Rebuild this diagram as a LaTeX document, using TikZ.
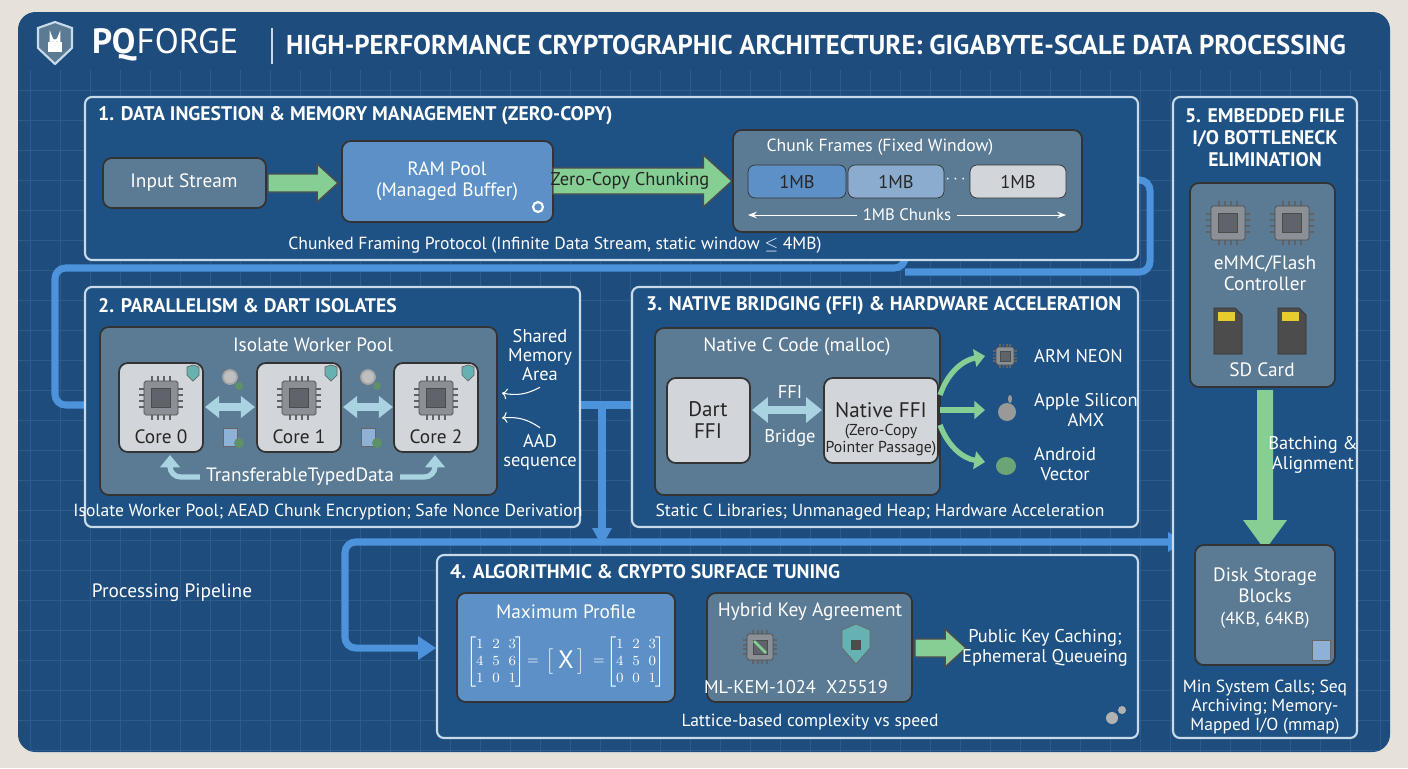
\documentclass[tikz,border=0pt]{standalone}
\usepackage{amsmath}
\usepackage{fontspec}
\setmainfont{PT Sans}
\usetikzlibrary{arrows.meta}
\definecolor{paper}{HTML}{E6E2DA}
\definecolor{bgblue}{HTML}{1E4C7C}
\definecolor{gridblue}{HTML}{2D5C8C}
\definecolor{panelblue}{HTML}{1F5284}
\definecolor{edgeblue}{HTML}{C9DBEA}
\definecolor{slatebox}{HTML}{5B7A93}
\definecolor{lightbox}{HTML}{5C90C6}
\definecolor{greybox}{HTML}{D2D6DA}
\definecolor{greenarr}{HTML}{86CF94}
\definecolor{flowblue}{HTML}{4C93DC}
\definecolor{paleblue}{HTML}{A9D3E0}
\definecolor{chipgray}{HTML}{8A9096}
\definecolor{chipdark}{HTML}{5E646A}
\tikzstyle{panel}=[draw=edgeblue, line width=1.2pt, fill=panelblue, rounded corners=4pt]
\tikzstyle{slate}=[draw=black!80, line width=1pt, fill=slatebox, rounded corners=5pt]
\tikzstyle{light}=[draw=black!80, line width=1pt, fill=lightbox, rounded corners=5pt]
\tikzstyle{grey}=[draw=black!80, line width=1pt, fill=greybox, rounded corners=5pt]
\tikzstyle{ptitle}=[anchor=west, text=white, font=\fontsize{11.2}{12.5}\selectfont\bfseries]
\tikzstyle{txt}=[text=white, align=center, font=\fontsize{10}{11}\selectfont]
\tikzstyle{dtxt}=[text=black!85, align=center, font=\fontsize{10.5}{11}\selectfont]
\tikzstyle{flow}=[draw=flowblue, line width=4pt, rounded corners=6pt]
\tikzstyle{garrow}=[draw=black!70, fill=greenarr, line width=0.8pt]
\tikzstyle{mtx}=[text=white, inner sep=0pt, font=\fontsize{8.5}{9.5}\selectfont]
% horizontal green block arrow: x1, x2, y, half shaft, half head
\newcommand{\garrow}[5]{%
  \draw[garrow] (#1,{#3-#4}) -- ({#2-1.1*#5},{#3-#4}) -- ({#2-1.1*#5},{#3-#5}) -- (#2,#3)
    -- ({#2-1.1*#5},{#3+#5}) -- ({#2-1.1*#5},{#3+#4}) -- (#1,{#3+#4}) -- cycle;
}
\newcommand{\chip}[3]{%
  \foreach \k in {-0.55,-0.18,0.18,0.55}{
    \draw[chipdark, line width=1pt] ({#1+\k*#3},{#2-#3}) -- ++(0,{-0.3*#3});
    \draw[chipdark, line width=1pt] ({#1+\k*#3},{#2+#3}) -- ++(0,{0.3*#3});
    \draw[chipdark, line width=1pt] ({#1-#3},{#2+\k*#3}) -- ++({-0.3*#3},0);
    \draw[chipdark, line width=1pt] ({#1+#3},{#2+\k*#3}) -- ++({0.3*#3},0);
  }
  \draw[fill=chipgray, draw=black!70, rounded corners=1pt] ({#1-#3},{#2-#3}) rectangle ({#1+#3},{#2+#3});
  \draw[fill=chipdark, draw=black!70] ({#1-0.55*#3},{#2-0.55*#3}) rectangle ({#1+0.55*#3},{#2+0.55*#3});
}
\begin{document}
\begin{tikzpicture}[x=0.02cm, y=-0.02cm]
\useasboundingbox (0,0) rectangle (1408,768);
\fill[paper] (0,0) rectangle (1408,768);
\fill[bgblue, rounded corners=10pt] (18,12) rectangle (1390,752);
\begin{scope}
\clip[rounded corners=10pt] (18,12) rectangle (1390,752);
\foreach \gx in {30,60,...,1390} \draw[gridblue, line width=0.3pt] (\gx,70) -- (\gx,752);
\foreach \gy in {90,120,...,750} \draw[gridblue, line width=0.3pt] (18,\gy) -- (1390,\gy);
\end{scope}

% header
\draw[edgeblue, fill=slatebox, line width=1.2pt] (38,28) -- (55,22) -- (72,28) -- (72,48) -- (55,64) -- (38,48) -- cycle;
\draw[white, line width=1.5pt] (51,42) -- (51,37) arc (180:0:4) -- (59,42);
\fill[white] (48,42) rectangle (62,52);
\node (logo) [anchor=west, text=white, font=\fontsize{20}{21}\selectfont] at (86,45) {\textbf{PQ}FORGE};
\draw[edgeblue, line width=1pt] (272,28) -- (272,64);
\node (title) [anchor=west, text=white, font=\fontsize{15.5}{16}\selectfont\bfseries] at (280,45)
  {\scalebox{0.98}[1]{HIGH-PERFORMANCE CRYPTOGRAPHIC ARCHITECTURE: GIGABYTE-SCALE DATA PROCESSING}};

% flow lines
\draw[flow] (1082,180) -- (1150,180) -- (1150,272) -- (905,272);
\draw[flow] (905,232) -- (905,268) -- (55,268) -- (55,405) -- (92,405);
\fill[flowblue] (88,395) -- (102,405) -- (88,415) -- cycle;
\draw[flow] (497,405) -- (636,405);
\fill[flowblue] (632,393) -- (652,405) -- (632,417) -- cycle;
\draw[flow] (602,405) -- (602,530);
\fill[flowblue] (592,528) -- (602,546) -- (612,528) -- cycle;
\draw[flow] (1172,542) -- (345,542) -- (345,648) -- (420,648);
\fill[flowblue] (1168,532) -- (1184,542) -- (1168,552) -- cycle;
\fill[flowblue] (418,636) -- (436,648) -- (418,660) -- cycle;

% panel 1
\draw[panel] (85,97) rectangle (1138,260);
\node (p1) [ptitle] at (92,116) {1. DATA INGESTION \& MEMORY MANAGEMENT (ZERO-COPY)};
\draw[slate] (103,158) rectangle (266,208);
\node (input) [txt, font=\fontsize{11}{12}\selectfont] at (184,183) {Input Stream};
\garrow{268}{338}{183}{9}{19}
\draw[light] (342,141) rectangle (553,222);
\node (ram) [txt, font=\fontsize{11}{12}\selectfont] at (447,181) {RAM Pool\\(Managed Buffer)};
\draw[white!80, line width=1.2pt] (538,207) circle (5);
\garrow{553}{732}{181}{13}{26}
\node (zc) [dtxt] at (630,181) {Zero-Copy Chunking};
\draw[slate] (733,130) rectangle (1082,232);
\node (frames) [txt] at (880,147) {Chunk Frames (Fixed Window)};
\draw[draw=black!80, fill=lightbox, rounded corners=4pt] (748,165) rectangle (846,198);
\draw[draw=black!80, fill=lightbox!60!greybox, rounded corners=4pt] (848,165) rectangle (944,198);
\draw[draw=black!80, fill=greybox, rounded corners=4pt] (970,165) rectangle (1066,198);
\node (c1) [dtxt] at (797,182) {1MB};
\node (c2) [dtxt] at (896,182) {1MB};
\node (cd) [txt] at (957,180) {$\cdots$};
\node (c3) [dtxt] at (1018,182) {1MB};
\node (mb) [txt, font=\fontsize{9.5}{10}\selectfont] at (907,215) {1MB Chunks};
\draw[white, -{Stealth[length=5pt]}] (mb.east) -- (1066,215);
\draw[white, -{Stealth[length=5pt]}] (mb.west) -- (748,215);
\node (foot1) [txt] at (555,245) {Chunked Framing Protocol (Infinite Data Stream, static window $\leq$ 4MB)};

% panel 2
\draw[panel] (85,287) rectangle (580,527);
\node (p2) [ptitle] at (92,306) {2. PARALLELISM \& DART ISOLATES};
\draw[slate] (100,327) rectangle (497,495);
\node (pool) [txt, font=\fontsize{11}{12}\selectfont] at (313,345) {Isolate Worker Pool};
\foreach \cx/\lab in {161/0,299/1,436/2}{
  \draw[grey] (\cx-42,363) rectangle (\cx+42,452);
  \chip{\cx}{398}{17}
  \node[dtxt, font=\fontsize{11}{12}\selectfont] at (\cx,437) {Core \lab};
  \draw[fill=teal!60, draw=black!60] (\cx+26,367) -- (\cx+32,365) -- (\cx+38,367) -- (\cx+38,375) -- (\cx+32,381) -- (\cx+26,375) -- cycle;
}
\foreach \ax in {230,368}{
  \draw[paleblue, line width=4pt, {Triangle[length=8pt,width=12pt]}-{Triangle[length=8pt,width=12pt]}] (\ax-25,407) -- (\ax+25,407);
  \draw[gray!70, fill=gray!50, line width=1pt] (\ax,377) circle (7);
  \fill[greenarr!70!black] (\ax+9,386) circle (4);
  \draw[fill=lightbox!70, draw=black!60] (\ax-7,428) rectangle (\ax+7,446);
  \fill[greenarr!70!black] (\ax+9,443) circle (5);
}
\node (ttd) [txt, font=\fontsize{11}{12}\selectfont] at (300,477) {TransferableTypedData};
\draw[paleblue, line width=3pt, -{Triangle[length=7pt,width=11pt]}, rounded corners=6pt] (ttd.west) -- (170,477) -- (170,455);
\draw[paleblue, line width=3pt, -{Triangle[length=7pt,width=11pt]}, rounded corners=6pt] (ttd.east) -- (435,477) -- (435,455);
\node (shared) [txt, font=\fontsize{10.5}{11}\selectfont] at (540,355) {Shared\\Memory\\Area};
\node (aad) [txt, font=\fontsize{10.5}{11}\selectfont] at (540,452) {AAD\\sequence};
\draw[white, ->, line width=0.6pt] (shared.south) to[bend left=20] (502,393);
\draw[white, ->, line width=0.6pt] (aad.north) to[bend right=20] (502,418);
\node (foot2) [txt] at (328,512) {Isolate Worker Pool; AEAD Chunk Encryption; Safe Nonce Derivation};

% panel 3
\draw[panel] (632,287) rectangle (1138,527);
\node (p3) [ptitle] at (640,306) {3. NATIVE BRIDGING (FFI) \& HARDWARE ACCELERATION};
\draw[slate] (655,328) rectangle (940,495);
\node (native) [txt, font=\fontsize{11}{12}\selectfont] at (797,347) {Native C Code (malloc)};
\draw[grey] (667,378) rectangle (750,463);
\node (dart) [dtxt, font=\fontsize{12}{13}\selectfont] at (708,420) {Dart\\FFI};
\draw[grey] (824,378) rectangle (938,463);
\node (nffi) [dtxt, font=\fontsize{12}{13}\selectfont] at (881,410) {Native FFI};
\node (zcp) [dtxt, font=\fontsize{9}{10}\selectfont] at (881,440) {(Zero-Copy\\Pointer Passage)};
\draw[paleblue, line width=5pt, {Triangle[length=9pt,width=14pt]}-{Triangle[length=9pt,width=14pt]}] (752,410) -- (822,410);
\node (ffi) [txt, font=\fontsize{10.5}{11}\selectfont] at (790,392) {FFI};
\node (bridge) [txt, font=\fontsize{10.5}{11}\selectfont] at (790,438) {Bridge};
\draw[greenarr, line width=3pt, -{Triangle[length=6pt,width=10pt]}] (940,395) to[bend left=30] (985,356);
\draw[greenarr, line width=3pt, -{Triangle[length=6pt,width=10pt]}] (940,410) -- (985,410);
\draw[greenarr, line width=3pt, -{Triangle[length=6pt,width=10pt]}] (940,425) to[bend right=30] (985,462);
\chip{1005}{356}{9}
\fill[gray!80] (1007,412) circle (9);
\fill[gray!80] (1010,399) ellipse (2 and 4);
\fill[greenarr!80!black] (1006,466) ellipse (10 and 9);
\node (neon) [txt, anchor=west, font=\fontsize{10.5}{11}\selectfont] at (1028,356) {ARM NEON};
\node (amx) [txt, anchor=west, font=\fontsize{10.5}{11}\selectfont] at (1028,410) {Apple Silicon\\AMX};
\node (vec) [txt, anchor=west, font=\fontsize{10.5}{11}\selectfont] at (1028,464) {Android\\Vector};
\node (foot3) [txt] at (880,512) {Static C Libraries; Unmanaged Heap; Hardware Acceleration};

% panel 4
\draw[panel] (437,555) rectangle (1138,738);
\node (p4) [ptitle] at (444,572) {4. ALGORITHMIC \& CRYPTO SURFACE TUNING};
\node (pp) [txt, font=\fontsize{11}{12}\selectfont] at (172,593) {Processing Pipeline};
\draw[light] (457,593) rectangle (675,702);
\node (maxp) [txt, font=\fontsize{11}{12}\selectfont] at (566,612) {Maximum Profile};
\node (mleft) [mtx] at (496,662) {\setlength\arraycolsep{2.5pt}$\begin{bmatrix}1&2&3\\4&5&6\\1&0&1\end{bmatrix}$};
\node (mx) [mtx] at (566,662) {$\begin{bmatrix}\;\text{\Large X}\;\\\end{bmatrix}$};
\node (mright) [mtx] at (636,662) {\setlength\arraycolsep{2.5pt}$\begin{bmatrix}1&2&3\\4&5&0\\0&0&1\end{bmatrix}$};
\node (eq1) [mtx] at (533,662) {$=$};
\node (eq2) [mtx] at (599,662) {$=$};
\draw[slate] (707,593) rectangle (912,702);
\node (hybrid) [txt, font=\fontsize{11}{12}\selectfont] at (810,612) {Hybrid Key Agreement};
\chip{760}{647}{13}
\draw[greenarr, line width=1.5pt] (754,641) -- (766,653);
\draw[fill=teal!60, draw=black!60] (842,630) -- (856,624) -- (870,630) -- (870,648) -- (856,664) -- (842,648) -- cycle;
\fill[black!70] (851,640) rectangle (861,650);
\node (kem) [txt, font=\fontsize{10.5}{11}\selectfont] at (760,687) {ML-KEM-1024};
\node (x255) [txt, font=\fontsize{10.5}{11}\selectfont] at (857,687) {X25519};
\garrow{915}{966}{648}{9}{19}
\node (cache) [txt, font=\fontsize{10.5}{11}\selectfont] at (1045,648) {Public Key Caching;\\Ephemeral Queueing};
\node (foot4) [txt] at (810,722) {Lattice-based complexity vs speed};
\fill[gray!60] (1112,718) circle (6);
\fill[gray!60] (1122,710) circle (4);

% panel 5
\draw[panel] (1173,97) rectangle (1357,738);
\node (p5) [ptitle, anchor=north, align=center] at (1265,102) {5. EMBEDDED FILE\\I/O BOTTLENECK\\ELIMINATION};
\draw[slate] (1190,183) rectangle (1335,387);
\chip{1228}{223}{17}
\chip{1292}{223}{17}
\node (emmc) [txt, font=\fontsize{11}{12}\selectfont] at (1265,273) {eMMC/Flash\\Controller};
\foreach \sx in {1228,1292}{
  \draw[fill=black!70, draw=black!80] (\sx-14,308) -- (\sx+7,308) -- (\sx+14,315) -- (\sx+14,354) -- (\sx-14,354) -- cycle;
  \fill[yellow!60!brown] (\sx-10,312) rectangle (\sx+7,321);
}
\node (sd) [txt, font=\fontsize{11}{12}\selectfont] at (1262,370) {SD Card};
\draw[garrow, draw=none] (1257,390) -- (1257,520) -- (1243,520) -- (1265,550) -- (1287,520) -- (1273,520) -- (1273,390) -- cycle;
\node (batch) [txt, font=\fontsize{10.5}{11}\selectfont] at (1313,455) {Batching \&\\Alignment};
\draw[slate] (1195,545) rectangle (1335,665);
\node (disk) [txt, font=\fontsize{11}{12}\selectfont] at (1265,585) {Disk Storage\\Blocks};
\node (blk) [txt, font=\fontsize{10}{11}\selectfont] at (1265,620) {(4KB, 64KB)};
\draw[fill=lightbox!70, draw=black!60] (1312,640) rectangle (1330,660);
\node (foot5) [txt, font=\fontsize{10}{11}\selectfont] at (1265,707) {Min System Calls; Seq\\Archiving; Memory-\\Mapped I/O (mmap)};
\end{tikzpicture}
\end{document}
